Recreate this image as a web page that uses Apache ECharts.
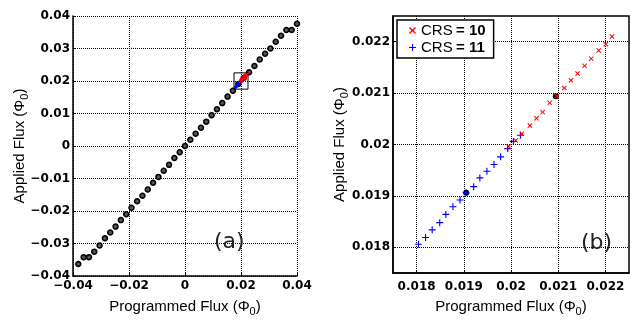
<!DOCTYPE html>
<html><head><meta charset="utf-8">
<script src="https://cdn.jsdelivr.net/npm/echarts@6/dist/echarts.min.js"></script>
<style>html,body{margin:0;padding:0;background:#fff}#c{width:631px;height:322px}</style>
</head><body><div id="c"></div>
<script>
// Panel (a): full sweep
const programmedA = [-0.0381,-0.0362,-0.0343,-0.0324,-0.0305,-0.0286,-0.0267,-0.0248,-0.0229,-0.0210,-0.0191,-0.0171,-0.0152,-0.0133,-0.0114,-0.0095,-0.0076,-0.0057,-0.0038,-0.0019,0.0000,0.0019,0.0038,0.0057,0.0076,0.0095,0.0114,0.0133,0.0152,0.0171,0.01905,0.02095,0.0229,0.0248,0.0267,0.0286,0.0305,0.0324,0.0343,0.0362,0.0381,0.0400];
const appliedA = [-0.0363,-0.0342,-0.0342,-0.0325,-0.0306,-0.0284,-0.0266,-0.0248,-0.0228,-0.0210,-0.0190,-0.0170,-0.0153,-0.0134,-0.0113,-0.0095,-0.0076,-0.0058,-0.0037,-0.0019,0.0000,0.0019,0.0038,0.0056,0.0075,0.0095,0.0113,0.0132,0.0152,0.0170,0.01906,0.02094,0.0227,0.0246,0.0266,0.0284,0.0300,0.0321,0.0339,0.0357,0.0357,0.0376];
// Zoom window shown in panel (b)
const zoomRange = [0.0175, 0.0225];
// CRS = 11 (blue)
const programmed11 = [0.01804,0.01819,0.01833,0.01849,0.01862,0.01877,0.01892,0.01905,0.01921,0.01934,0.01949,0.01964,0.01978,0.01993,0.02005,0.02020];
const applied11 = [0.01806,0.01819,0.01834,0.01848,0.01864,0.01879,0.01892,0.01906,0.01918,0.01935,0.01948,0.01961,0.01976,0.01992,0.02006,0.02018];
// CRS = 10 (red)
const programmed10 = [0.01995,0.02010,0.02023,0.02040,0.02054,0.02067,0.02082,0.02097,0.02113,0.02127,0.02141,0.02156,0.02170,0.02186,0.02201,0.02214];
const applied10 = [0.01996,0.02008,0.02021,0.02037,0.02051,0.02063,0.02081,0.02094,0.02110,0.02125,0.02138,0.02153,0.02167,0.02183,0.02195,0.02210];
// Tick values and labels
const aXTicks = [-0.04,-0.02,0,0.02,0.04];
const aXLabels = ['\u22120.04','\u22120.02','0','0.02','0.04'];
const aYTicks = [-0.04,-0.03,-0.02,-0.01,0,0.01,0.02,0.03,0.04];
const aYLabels = ['\u22120.04','\u22120.03','\u22120.02','\u22120.01','0','0.01','0.02','0.03','0.04'];
const bTicks = [0.018,0.019,0.020,0.021,0.022];
const bLabels = ['0.018','0.019','0.02','0.021','0.022'];
const seriesNames = ['CRS = 10','CRS = 11'];
const xTitle = 'Programmed Flux (\u03a6{s|0})';
const yTitle = 'Applied Flux (\u03a6{s|0})';

const zip = (a, b) => a.map((v, i) => [v, b[i]]);
const labelFor = (vals, labs) => v => {
  for (let i = 0; i < vals.length; i++) if (Math.abs(v - vals[i]) < 1e-7) return labs[i];
  return '';
};
const X_PATH = 'path://M1.4,0L5,3.6L8.6,0L10,1.4L6.4,5L10,8.6L8.6,10L5,6.4L1.4,10L0,8.6L3.6,5L0,1.4Z';
const PLUS_PATH = 'path://M4.2,0H5.8V4.2H10V5.8H5.8V10H4.2V5.8H0V4.2H4.2Z';

const nameStyle = {fontFamily:'Liberation Sans', fontSize:15, color:'#000',
  rich:{s:{fontFamily:'Liberation Sans', fontSize:11, color:'#000', padding:[9,0,0,0]}}};
const tickLabel = {color:'#000', fontFamily:'DejaVu Sans', fontWeight:'bold', fontSize:12};
const gridLine = {show:true, lineStyle:{color:'#000', type:'dotted', width:1}};

function axis(opts) {
  return Object.assign({
    type:'value',
    axisLine:{show:true, onZero:false, lineStyle:{color:'#000', width:1.5}},
    axisTick:{show:true, inside:true, length:3, lineStyle:{color:'#000'}},
    splitLine:gridLine,
    nameLocation:'middle', nameTextStyle:nameStyle, nameMoveOverlap:false
  }, opts);
}

const chart = echarts.init(document.getElementById('c'), null, {renderer:'canvas'});
chart.setOption({
  animation:false,
  backgroundColor:'#fff',
  grid:[
    {left:73, top:16, width:224, height:262},
    {left:393, top:16, width:236, height:262, show:true, borderColor:'#000', borderWidth:1.5, backgroundColor:'transparent'}
  ],
  xAxis:[
    axis({gridIndex:0, min:-0.04, max:0.04, interval:0.02,
      axisLabel:Object.assign({margin:4, formatter:labelFor(aXTicks, aXLabels)}, tickLabel),
      name:xTitle, nameGap:21}),
    axis({gridIndex:1, min:zoomRange[0], max:zoomRange[1], interval:0.0005,
      axisLabel:Object.assign({margin:8, formatter:labelFor(bTicks, bLabels), customValues:bTicks}, tickLabel),
      axisTick:{show:true, inside:true, length:3, lineStyle:{color:'#000'}, customValues:bTicks},
      name:xTitle, nameGap:24})
  ],
  yAxis:[
    axis({gridIndex:0, min:-0.04, max:0.04, interval:0.01,
      axisLabel:Object.assign({margin:3, formatter:labelFor(aYTicks, aYLabels)}, tickLabel),
      name:yTitle, nameGap:43, nameRotate:90}),
    axis({gridIndex:1, min:zoomRange[0], max:zoomRange[1], interval:0.0005,
      axisLabel:Object.assign({margin:3, formatter:labelFor(bTicks, bLabels), customValues:bTicks}, tickLabel),
      axisTick:{show:true, inside:true, length:3, lineStyle:{color:'#000'}, customValues:bTicks},
      name:yTitle, nameGap:43, nameRotate:90})
  ],
  legend:{
    left:397, top:20, orient:'vertical', itemGap:2, itemWidth:7, itemHeight:7,
    padding:[3,8,3,12], borderColor:'#000', borderWidth:1.5, backgroundColor:'#fff',
    data:[{name:seriesNames[0], icon:X_PATH},{name:seriesNames[1], icon:PLUS_PATH}],
    formatter:function(n){ const p = n.split(' = '); return '{n|' + p[0] + '} {b|= ' + p[1] + '}'; },
    textStyle:{rich:{
      n:{fontFamily:'Liberation Sans', fontSize:15, color:'#000', lineHeight:17},
      b:{fontFamily:'Liberation Sans', fontWeight:'bold', fontSize:15, color:'#000', lineHeight:17}
    }}
  },
  graphic:[
    {type:'text', left:214, top:231, z:100, style:{text:'(a)', font:'22px "DejaVu Sans"', fill:'#222', align:'center', verticalAlign:'middle'}},
    {type:'text', left:581, top:232, z:100, style:{text:'(b)', font:'22px "DejaVu Sans"', fill:'#222', align:'center', verticalAlign:'middle'}}
  ],
  series:[
    {type:'scatter', xAxisIndex:0, yAxisIndex:0, data:zip(programmedA, appliedA), symbol:'circle', symbolSize:5,
      itemStyle:{color:'#555', borderColor:'#000', borderWidth:1.5, opacity:1}, z:2},
    {type:'line', xAxisIndex:0, yAxisIndex:0, symbol:'none', silent:true,
      data:[[zoomRange[0],zoomRange[0]],[zoomRange[1],zoomRange[0]],[zoomRange[1],zoomRange[1]],[zoomRange[0],zoomRange[1]],[zoomRange[0],zoomRange[0]]],
      lineStyle:{color:'#000', width:1}, z:3},
    {name:seriesNames[1], type:'scatter', xAxisIndex:0, yAxisIndex:0, data:zip(programmed11, applied11), symbol:PLUS_PATH, symbolSize:4,
      itemStyle:{color:'#0000ff', opacity:1}, z:4},
    {name:seriesNames[0], type:'scatter', xAxisIndex:0, yAxisIndex:0, data:zip(programmed10, applied10), symbol:X_PATH, symbolSize:4,
      itemStyle:{color:'#ff0000', opacity:1}, z:4},
    {type:'scatter', xAxisIndex:1, yAxisIndex:1, data:zip(programmedA, appliedA), symbol:'circle', symbolSize:6, clip:true,
      itemStyle:{color:'#000', opacity:1}, z:2},
    {name:seriesNames[1], type:'scatter', xAxisIndex:1, yAxisIndex:1, data:zip(programmed11, applied11), symbol:PLUS_PATH, symbolSize:7,
      itemStyle:{color:'#0000ff', opacity:1}, z:4},
    {name:seriesNames[0], type:'scatter', xAxisIndex:1, yAxisIndex:1, data:zip(programmed10, applied10), symbol:X_PATH, symbolSize:5,
      itemStyle:{color:'#ff0000', opacity:1}, z:4}
  ]
});
</script></body></html>
